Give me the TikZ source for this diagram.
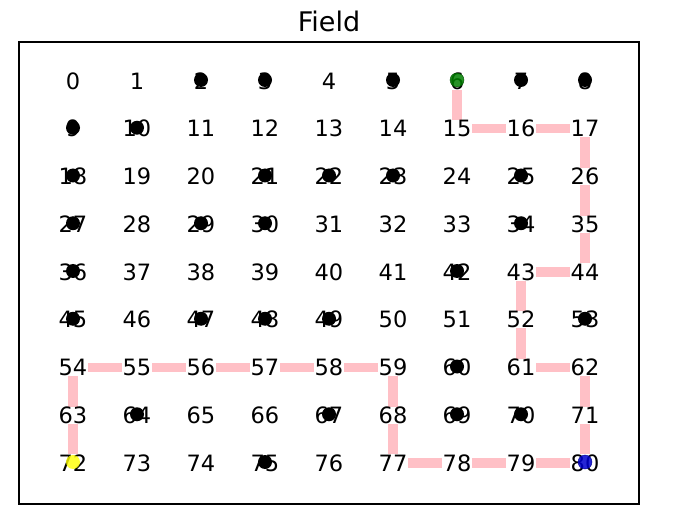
\documentclass[tikz,border=0pt]{standalone}
\usepackage{fontspec}
\setmainfont{DejaVu Sans}
\definecolor{pathpink}{RGB}{255,192,198}
\definecolor{dotgreen}{RGB}{0,128,0}
\definecolor{dotblue}{RGB}{0,0,205}
\definecolor{dotyellow}{RGB}{255,255,0}
\begin{document}
\begin{tikzpicture}[x=1pt,y=-1pt,
  lbl/.style={fill=white,inner sep=0.5pt,text height=16.4pt,text depth=0pt,font=\fontsize{22.5}{26}\selectfont},
  obst/.style={fill=black,circle,inner sep=0pt,minimum size=14pt},
  cdot/.style={circle,inner sep=0pt,minimum size=14pt,fill opacity=0.85},
  route/.style={pathpink,line width=9.5pt,line join=miter}]
\useasboundingbox (0,0) rectangle (677,529);
\node[font=\fontsize{27}{32}\selectfont,text height=19.7pt,text depth=0pt,inner sep=0pt] (title) at (329,22) {Field};
\draw[line width=1.3pt] (19,42) rectangle (639,504);
% coordinates for cells
\foreach \r in {0,...,8}{
  \foreach \c in {0,...,8}{
    \pgfmathtruncatemacro{\n}{9*\r+\c}
    \coordinate (p\n) at ({73+64*\c},{81+47.75*\r});
  }
}
% route
\draw[route] (p6) -- (p15) -- (p16) -- (p17) -- (p26) -- (p35) -- (p44) -- (p43) -- (p52) -- (p61) -- (p62) -- (p71) -- (p80) -- (p79) -- (p78) -- (p77) -- (p68) -- (p59) -- (p58) -- (p57) -- (p56) -- (p55) -- (p54) -- (p63) -- (p72);
% labels
\foreach \n in {0,...,80}{
  \node[lbl] (t\n) at (p\n) {\n};
}
% obstacles
\foreach \n in {2,3,5,7,8,9,10,18,21,22,23,25,27,29,30,34,36,42,45,47,48,49,53,60,64,67,69,70,75}{
  \node[obst] (o\n) at ([yshift=1pt]p\n) {};
}
\node[cdot,fill=dotgreen,draw=dotgreen!60!black] (start) at ([yshift=1pt]p6) {};
\node[cdot,fill=dotblue,draw=dotblue!70!black] (goal) at ([yshift=1pt]p80) {};
\node[cdot,fill=dotyellow,fill opacity=0.8] (agent) at ([yshift=1pt]p72) {};
\end{tikzpicture}
\end{document}
